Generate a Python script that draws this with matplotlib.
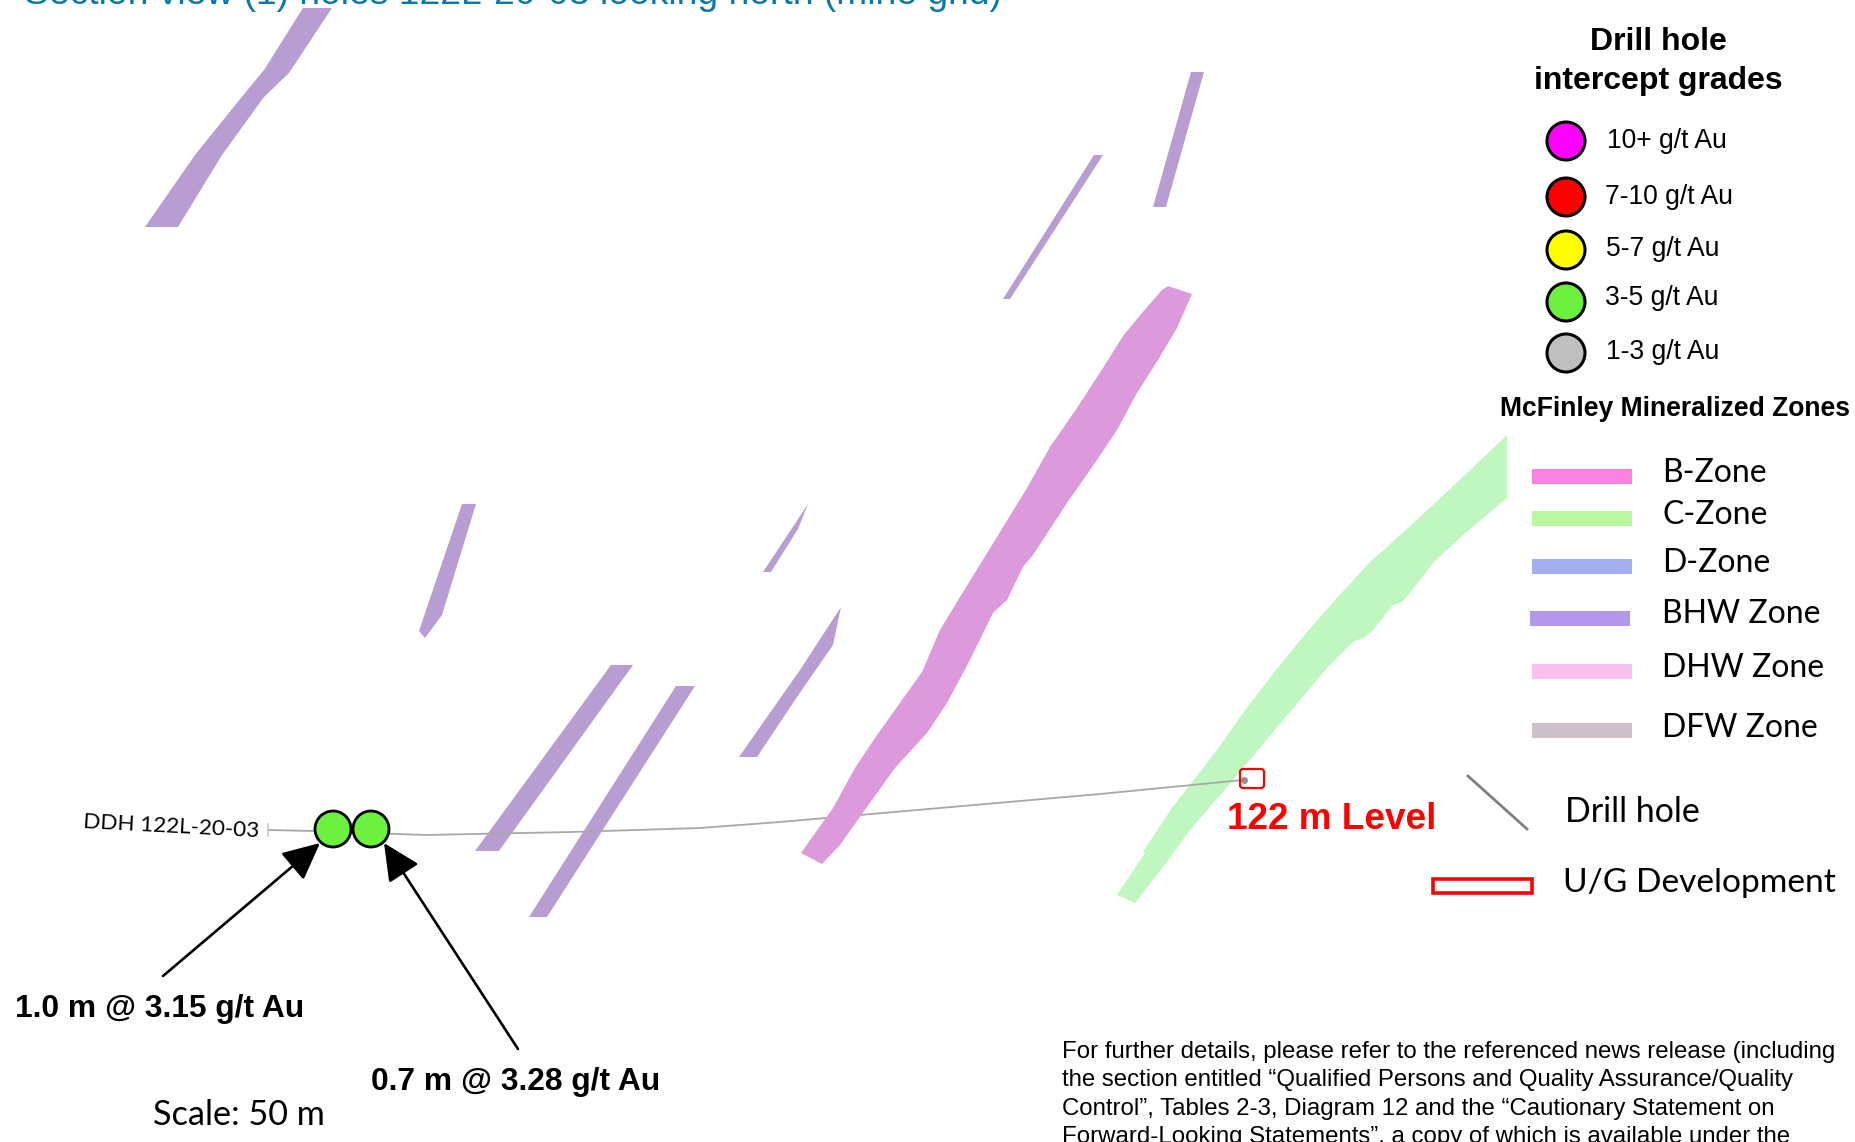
import matplotlib
matplotlib.use("Agg")
import matplotlib.pyplot as plt
from matplotlib.patches import Polygon, Circle, Rectangle, FancyBboxPatch

ARIAL = "Liberation Sans"
CALIBRI = "Lato"

# zone outlines
bhw_zones = [
    [(145, 227), (195, 155), (245, 93), (264, 70), (303, 8), (332, 8), (289, 73), (264, 97), (222, 155), (178, 227)],
    [(1094, 155), (1103, 155), (1010, 299), (1003, 299)],
    [(1191, 72), (1204, 72), (1166, 207), (1153, 207)],
    [(462, 504), (476, 504), (442, 615), (425, 638), (419, 631)],
    [(808, 504), (798, 529), (771, 572), (763, 572)],
    [(611, 665), (633, 665), (499, 851), (475, 851)],
    [(676, 686), (695, 686), (547, 917), (529, 917)],
    [(841, 607), (833, 645), (797, 697), (757, 757), (739, 757), (800, 670)],
]
b_zone = [(1168, 286), (1192, 294), (1177, 328), (1158, 360), (1137, 393), (1117, 430), (1097, 460),
          (1067, 503), (1033, 555), (1023, 567), (1007, 600), (993, 613), (970, 660), (947, 703),
          (927, 733), (895, 768), (867, 807), (840, 845), (822, 864), (801, 853), (833, 808),
          (855, 768), (875, 738), (897, 707), (922, 672), (940, 630), (960, 597), (997, 537),
          (1027, 488), (1050, 447), (1077, 408), (1103, 368), (1123, 336), (1142, 313), (1162, 290)]
c_zone = [(1507, 435), (1507, 498), (1463, 535), (1433, 563), (1410, 593), (1402, 602), (1393, 605),
          (1373, 630), (1365, 637), (1353, 642), (1328, 667), (1290, 712), (1258, 750), (1227, 787),
          (1190, 830), (1163, 867), (1135, 903), (1117, 895), (1145, 853), (1143, 852), (1172, 808),
          (1217, 750), (1243, 713), (1272, 675), (1307, 632), (1337, 598), (1370, 562), (1387, 547),
          (1420, 517), (1467, 473)]

hole_x = [268, 315, 426, 571, 700, 780, 1100, 1243]
hole_y = [830, 831, 835, 832, 828, 822, 794, 780]

intercept_x = [333, 371]
intercept_y = [829, 829]

grade_labels = ["10+ g/t Au", "7-10 g/t Au", "5-7 g/t Au", "3-5 g/t Au", "1-3 g/t Au"]
grade_colors = ["#ff00ff", "#ff0000", "#ffff00", "#6cf13f", "#bfbfbf"]
grade_circle_y = [141, 197, 250, 302, 353]
grade_text_x = [1607, 1605, 1606, 1605, 1606]
grade_text_y = [148, 204, 256, 305, 359]

zone_labels = ["B-Zone", "C-Zone", "D-Zone", "BHW Zone", "DHW Zone", "DFW Zone"]
zone_colors = ["#f782e0", "#baf7a0", "#a4aff0", "#b398ec", "#f9c2ee", "#cfc1cb"]
zone_swatch_x = [1532, 1532, 1532, 1530, 1532, 1532]
zone_swatch_y = [469, 511, 559, 611, 664, 723]
zone_text_y = [482, 524, 572, 623, 677, 737]

note_lines = [
    "For further details, please refer to the referenced news release (including",
    "the section entitled \u201cQualified Persons and Quality Assurance/Quality",
    "Control\u201d, Tables 2-3, Diagram 12 and the \u201cCautionary Statement on",
    "Forward-Looking Statements\u201d, a copy of which is available under the",
]
note_y = [1058, 1086, 1115, 1143]

fig = plt.figure(figsize=(18.55, 11.42), dpi=100)
ax = fig.add_axes([0, 0, 1, 1])
ax.set_xlim(0, 1855)
ax.set_ylim(1142, 0)
ax.axis("off")

# zones
for z in bhw_zones:
    ax.add_patch(Polygon(z, closed=True, fc="#b79dd2", ec="none", zorder=1))
# hole goes under the b zone but over the others
ax.plot(hole_x, hole_y, color="#a8a8a8", lw=1.3, zorder=2)
ax.add_patch(Polygon(b_zone, closed=True, fc="#dc9adc", ec="none", zorder=3))
ax.add_patch(Polygon(c_zone, closed=True, fc="#c0f6c0", ec="none", zorder=1))

ax.plot([268, 268], [824, 836], color="#c8c8c8", lw=1.2, zorder=2)
ax.plot([1244], [780], "o", color="#909090", ms=5, mew=0, zorder=3)
ax.add_patch(FancyBboxPatch((1242, 771), 20, 15, boxstyle="round,pad=2,rounding_size=3",
                            fc="none", ec="#ff0000", lw=1.6, zorder=3))

# intercepts
for x, y in zip(intercept_x, intercept_y):
    ax.add_patch(Circle((x, y), 18, fc="#6cf13f", ec="black", lw=2, zorder=4))

arrow = dict(arrowstyle="-|>,head_length=1.15,head_width=0.55", color="black", lw=1.9,
             shrinkA=0, shrinkB=0, mutation_scale=20)
ax.annotate("", xy=(320, 843), xytext=(163, 976), arrowprops=arrow, zorder=5)
ax.annotate("", xy=(384, 843), xytext=(518, 1049), arrowprops=arrow, zorder=5)

ax.text(15, 1017, "1.0 m @ 3.15 g/t Au", family=ARIAL, weight="bold", fontsize=22.9, va="baseline")
ax.text(371, 1090, "0.7 m @ 3.28 g/t Au", family=ARIAL, weight="bold", fontsize=22.9, va="baseline")
ax.text(153, 1125, "Scale: 50 m", family=CALIBRI, fontsize=24.7, va="baseline")
ax.text(83, 828, "DDH 122L-20-03", family=CALIBRI, fontsize=16.2, va="baseline", ha="left",
        rotation=-3, rotation_mode="anchor")
ax.text(1227, 829, "122 m Level", family=ARIAL, weight="bold", fontsize=26.6, color="#ff0000", va="baseline")

# title runs off the top of the picture
ax.text(24, 4, "Section view (1) holes 122L-20-03 looking north (mine grid)", family=ARIAL,
        fontsize=26.8, color="#0a78a8", va="baseline", clip_on=False)

# grade legend
ax.text(1658, 50, "Drill hole", family=ARIAL, weight="bold", fontsize=23, ha="center", va="baseline")
ax.text(1658, 89, "intercept grades", family=ARIAL, weight="bold", fontsize=23, ha="center", va="baseline")
for lab, col, cy, tx, ty in zip(grade_labels, grade_colors, grade_circle_y, grade_text_x, grade_text_y):
    ax.add_patch(Circle((1566, cy), 19, fc=col, ec="black", lw=2.2, zorder=4))
    ax.text(tx, ty, lab, family=ARIAL, fontsize=19.1, va="baseline")

# zone legend
ax.text(1500, 416, "McFinley Mineralized Zones", family=ARIAL, weight="bold", fontsize=19.1, va="baseline")
for lab, col, sx, sy, ty in zip(zone_labels, zone_colors, zone_swatch_x, zone_swatch_y, zone_text_y):
    ax.add_patch(Rectangle((sx, sy), 100, 15, fc=col, ec="none"))
    ax.text(1662, ty, lab, family=CALIBRI, fontsize=23, va="baseline")

ax.plot([1468, 1527], [776, 829], color="#808080", lw=2)
ax.text(1565, 822, "Drill hole", family=CALIBRI, fontsize=24.4, va="baseline")
ax.add_patch(Rectangle((1433, 879), 99, 14, fc="none", ec="#ff0000", lw=2.6))
ax.text(1563, 892, "U/G Development", family=CALIBRI, fontsize=24.1, va="baseline")

# note, last line is cut by the picture edge
for line, y in zip(note_lines, note_y):
    ax.text(1062, y, line, family=ARIAL, fontsize=17.3, va="baseline")

fig.savefig("out.png", dpi=100)
